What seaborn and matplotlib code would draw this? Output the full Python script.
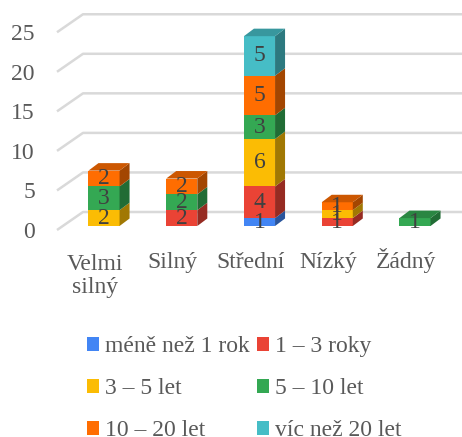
import numpy as np
import pandas as pd
import seaborn as sns
import matplotlib.pyplot as plt
import matplotlib.colors as mcolors
from matplotlib.patches import Polygon, Patch

# data
categories = ["Velmi\nsilný", "Silný", "Střední", "Nízký", "Žádný"]
series = ["méně než 1 rok", "1 – 3 roky", "3 – 5 let", "5 – 10 let", "10 – 20 let", "víc než 20 let"]
mene_1 = [0, 0, 1, 0, 0]
roky_1_3 = [0, 2, 4, 1, 0]
let_3_5 = [2, 0, 6, 1, 0]
let_5_10 = [3, 2, 3, 0, 1]
let_10_20 = [2, 2, 5, 1, 0]
let_20 = [0, 0, 5, 0, 0]
colors = ["#4285F4", "#EA4335", "#FBBC04", "#34A853", "#FF6D01", "#46BDC6"]
y_ticks = [0, 5, 10, 15, 20, 25]

values = [mene_1, roky_1_3, let_3_5, let_5_10, let_10_20, let_20]
df = pd.DataFrame([
    {"category": c, "series": s, "value": v}
    for s, vals in zip(series, values)
    for c, v in zip(categories, vals)
])

sns.set_style("white")
plt.rcParams["font.family"] = ["Liberation Serif", "DejaVu Serif"]
FS = 17
TXT = "#595959"

# layout in pixels
W, H = 462, 437
X0, DX = 104, 77.75   # first category center, category pitch
Y0, DY = 226, 7.91    # pixel row of value 0, pixels per unit

fig = plt.figure(figsize=(W / 100, H / 100), dpi=100)
ax = fig.add_axes([0, 0, 1, 1])

bdx, bdy = 10 / DX, 7.5 / DY          # bar depth
front_x, back_x = (57 - X0) / DX, (83 - X0) / DX
front_dy, back_dy = -4 / DY, 14 / DY
xmax = (W - X0) / DX

# perspective gridlines (floor edge + back wall)
for v in y_ticks:
    ax.plot([front_x, back_x, xmax], [v + front_dy, v + back_dy, v + back_dy],
            color="#D9D9D9", lw=1.8, zorder=0, solid_capstyle="butt")

# stacked bars
bottoms = np.zeros(len(categories))
tops = {}
for i, s in enumerate(series):
    sub = df[df["series"] == s]
    sns.barplot(data=sub, x="category", y="value", order=categories, color=colors[i],
                saturation=1, width=0.4, bottom=bottoms, errorbar=None, linewidth=0,
                ax=ax, zorder=2)
    side_c = np.array(mcolors.to_rgb(colors[i])) * 0.64
    for j, p in enumerate(ax.containers[-1]):
        h = p.get_height()
        if h <= 0:
            continue
        x, y, w = p.get_x(), p.get_y(), p.get_width()
        ax.add_patch(Polygon([(x + w, y), (x + w + bdx, y + bdy), (x + w + bdx, y + h + bdy), (x + w, y + h)],
                             closed=True, facecolor=side_c, lw=0, zorder=2))
        ax.text(x + w / 2, y + h / 2, f"{h:g}", ha="center", va="center",
                fontsize=FS, color="#404040", zorder=5)
        tops[j] = (x, y + h, w, colors[i])
    bottoms = bottoms + np.array(sub["value"])

for j, (x, y, w, c) in tops.items():
    top_c = np.array(mcolors.to_rgb(c)) * 0.8
    ax.add_patch(Polygon([(x, y), (x + bdx, y + bdy), (x + w + bdx, y + bdy), (x + w, y)],
                         closed=True, facecolor=top_c, lw=0, zorder=2))

ax.set_xlim(-X0 / DX, xmax)
ax.set_ylim(-(H - Y0) / DY, Y0 / DY)

# y tick labels at the front edge of the floor
ax.set_yticks([v + front_dy for v in y_ticks], [str(v) for v in y_ticks])
ax.tick_params(axis="y", length=0, pad=-35 * 0.72, labelsize=FS, labelcolor=TXT)

# category labels, first-line baselines aligned (baseline = last line for multi-line)
ax.set_xticks([])
base_y = (Y0 - 268) / DY
line_h = 25 / DY
for j, c in enumerate(categories):
    n_extra = c.count("\n")
    ax.text(j - 0.115, base_y - n_extra * line_h, c, ha="center", va="baseline",
            multialignment="center", linespacing=1.1, fontsize=FS, color=TXT)
ax.set_xlabel("")
ax.set_ylabel("")
for sp in ax.spines.values():
    sp.set_visible(False)

# legend, row-wise order
order = [0, 2, 4, 1, 3, 5]
handles = [Patch(facecolor=colors[k], lw=0) for k in order]
labels = [series[k] for k in order]
leg = ax.legend(handles, labels, ncol=2, loc="upper left",
                bbox_to_anchor=(87 / W, 1 - 336 / H), bbox_transform=fig.transFigure,
                frameon=False, fontsize=FS, borderpad=0, borderaxespad=0,
                handlelength=0.52, handleheight=0.52, handletextpad=0.25,
                columnspacing=0.3, labelspacing=0.9, labelcolor=TXT)

fig.savefig("out.png", dpi=100)
